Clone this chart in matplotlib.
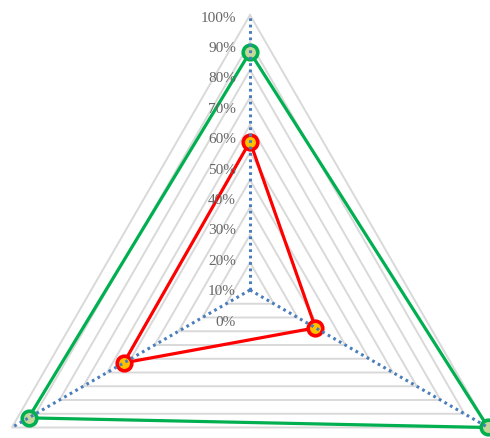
import numpy as np
import matplotlib
matplotlib.use("Agg")
import matplotlib.pyplot as plt

# ---- data ----
categories = ["A", "B", "C"]          # top, bottom-right, bottom-left (clockwise)
red_values = [0.54, 0.275, 0.53]
green_values = [0.865, 1.0, 0.93]
grid_levels = [0.1, 0.2, 0.3, 0.4, 0.5, 0.6, 0.7, 0.8, 0.9, 1.0]
tick_labels = ["0%", "10%", "20%", "30%", "40%", "50%", "60%", "70%", "80%", "90%", "100%"]
tick_values = [0.0, 0.1, 0.2, 0.3, 0.4, 0.5, 0.6, 0.7, 0.8, 0.9, 1.0]

# ---- geometry ----
W, H = 490, 438
cx_pix, cy_pix, R = 250.0, 290.0, 275.0
n = len(categories)
angles = np.pi / 2 - np.arange(n) * 2 * np.pi / n   # clockwise from top


def to_xy(vals):
    vals = np.asarray(vals, dtype=float)
    return vals * np.cos(angles), vals * np.sin(angles)


fig = plt.figure(figsize=(W / 100, H / 100), dpi=100)
ax = fig.add_axes([0, 0, 1, 1])
ax.set_xlim(-cx_pix / R, (W - cx_pix) / R)
ax.set_ylim((cy_pix - H) / R, cy_pix / R)
ax.axis("off")

# grid triangles
for lv in grid_levels:
    x, y = to_xy([lv] * n)
    ax.plot(np.append(x, x[0]), np.append(y, y[0]), color="#d9d9d9",
            lw=1.4, zorder=1, solid_joinstyle="miter")

# series
for vals, lc, fc in [(green_values, "#00b050", "#c4d79b"),
                     (red_values, "#ff0000", "#ffc000")]:
    x, y = to_xy(vals)
    ax.plot(np.append(x, x[0]), np.append(y, y[0]), color=lc, lw=2.3,
            zorder=3, solid_joinstyle="miter")
    ax.plot(x, y, linestyle="none", marker="o", markersize=10.5,
            markerfacecolor=fc, markeredgecolor=lc, markeredgewidth=2.6,
            zorder=4)

# dotted category axes (drawn on top as in reference)
for a in angles:
    ax.plot([0, np.cos(a)], [0, np.sin(a)], color="#4a7ebb", lw=2.2,
            linestyle=(0, (0.9, 1.2)), zorder=5, dash_capstyle="butt")

# value labels
for tv, tl in zip(tick_values, tick_labels):
    ypix = 322 - 304 * tv
    ax.text((236 - cx_pix) / R, (cy_pix - ypix) / R, tl, ha="right",
            va="center", fontsize=11, color="#666666",
            family=["Liberation Serif", "DejaVu Serif"], zorder=6)

fig.savefig("out.png", dpi=100)
